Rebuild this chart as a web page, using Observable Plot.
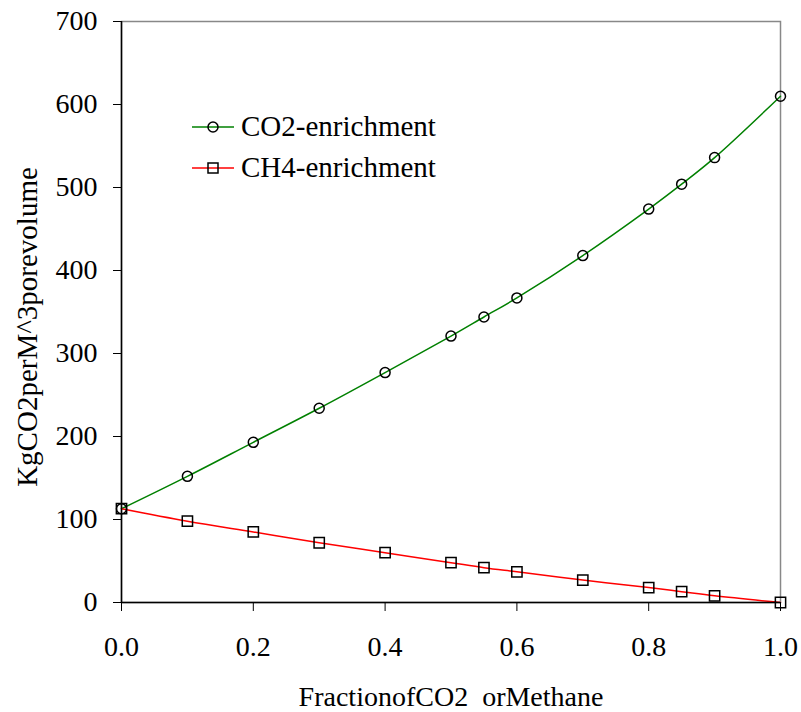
<!DOCTYPE html>
<html><head><meta charset="utf-8">
<script src="https://cdn.jsdelivr.net/npm/d3@7"></script>
<script src="https://cdn.jsdelivr.net/npm/@observablehq/plot@0.6"></script>
<style>
body{margin:0;background:#fff;}
#wrap{position:relative;width:801px;height:712px;}
#wrap svg text{white-space:pre;font-family:"Liberation Serif","Times New Roman",serif;font-size:28px;}
#wrap svg text.ylab{font-size:29px;}
#legend{position:absolute;left:192px;top:106px;font-family:"Liberation Serif","Times New Roman",serif;font-size:29px;color:#000;line-height:1;}
.row{display:flex;align-items:center;height:41px;}
.row svg{margin-right:7px;}
</style></head>
<body><div id="wrap"></div>
<script>
const fractions = [0, 0.1, 0.2, 0.3, 0.4, 0.5, 0.55, 0.6, 0.7, 0.8, 0.85, 0.9, 1.0];
const co2Values = [113, 152, 193, 234, 277, 321, 344, 367, 418, 474, 504, 536, 610];
const ch4Values = [113, 98, 85, 72, 60, 48, 42, 37, 27, 18, 13, 8, 0];
const seriesNames = ["CO2-enrichment", "CH4-enrichment"];
const seriesColors = ["#008000", "#ff0000"];
const xTicks = [0, 0.2, 0.4, 0.6, 0.8, 1.0];
const yTicks = [0, 100, 200, 300, 400, 500, 600, 700];
const xLabel = "FractionofCO2  orMethane";
const yLabel = "KgCO2perM^3porevolume";

const co2 = fractions.map((f, i) => ({x: f, y: co2Values[i]}));
const ch4 = fractions.map((f, i) => ({x: f, y: ch4Values[i]}));

const chart = Plot.plot({
  width: 801, height: 712,
  marginLeft: 121, marginRight: 21, marginTop: 21, marginBottom: 110,
  style: {fontFamily: "Liberation Serif, serif", fontSize: "28px", color: "#000", background: "#fff"},
  x: {domain: [0, 1]},
  y: {domain: [0, 700]},
  marks: [
    Plot.frame({stroke: "#888", strokeWidth: 1.5}),
    Plot.line(co2, {x: "x", y: "y", stroke: seriesColors[0], strokeWidth: 1.5, curve: "catmull-rom"}),
    Plot.line(ch4, {x: "x", y: "y", stroke: seriesColors[1], strokeWidth: 1.5, curve: "catmull-rom"}),
    Plot.dot(co2, {x: "x", y: "y", r: 5, stroke: "#000", strokeWidth: 1.5, fill: "none"}),
    Plot.dot(ch4, {x: "x", y: "y", r: 5.8, symbol: "square", stroke: "#000", strokeWidth: 1.5, fill: "none"}),
    Plot.axisX({ticks: xTicks, tickFormat: d => d.toFixed(1), tickSize: 9, tickPadding: 25, label: null, fontSize: 28}),
    Plot.axisY({ticks: yTicks, tickSize: 8, tickPadding: 16, label: null, fontSize: 28}),
    Plot.ruleX([0], {stroke: "#000", strokeWidth: 1.5}),
    Plot.ruleY([0], {stroke: "#000", strokeWidth: 1.5}),
    Plot.text([xLabel], {text: d => d, frameAnchor: "bottom", dy: 95, lineAnchor: "middle", fontSize: 28}),
    Plot.text([yLabel], {text: d => d, frameAnchor: "left", textAnchor: "middle", dx: -94, dy: 15, rotate: -90, lineAnchor: "middle", fontSize: 29, className: "ylab"})
  ]
});
const wrap = document.getElementById("wrap");
wrap.appendChild(chart);
chart.querySelectorAll("g.ylab text, .ylab text").forEach(t => t.classList.add("ylab"));

const legend = document.createElement("div");
legend.id = "legend";
seriesNames.forEach((name, i) => {
  const row = document.createElement("div");
  row.className = "row";
  const marker = i === 0
    ? '<circle cx="21" cy="10" r="5" fill="none" stroke="#000" stroke-width="1.5"/>'
    : '<rect x="16" y="5" width="10" height="10" fill="none" stroke="#000" stroke-width="1.5"/>';
  row.innerHTML = `<svg width="42" height="20"><line x1="0" y1="10" x2="42" y2="10" stroke="${seriesColors[i]}" stroke-width="1.5"/>${marker}</svg><span>${name}</span>`;
  legend.appendChild(row);
});
wrap.appendChild(legend);
</script></body></html>
